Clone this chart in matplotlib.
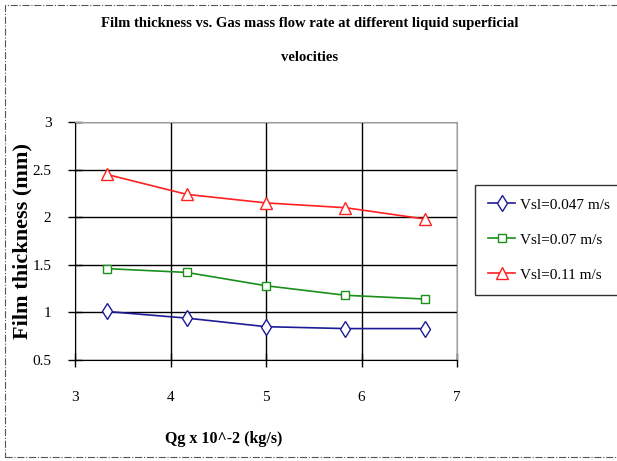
import matplotlib
matplotlib.use("Agg")
import matplotlib.pyplot as plt
from matplotlib.patches import Rectangle

plt.rcParams['font.family'] = ['Liberation Serif', 'DejaVu Serif']

# data
qg = [3.33, 4.17, 5.0, 5.83, 6.67]
vsl_047 = [1.01, 0.94, 0.85, 0.83, 0.83]
vsl_07 = [1.46, 1.42, 1.28, 1.18, 1.14]
vsl_11 = [2.45, 2.24, 2.15, 2.10, 1.98]
labels = ['Vsl=0.047 m/s', 'Vsl=0.07 m/s', 'Vsl=0.11 m/s']
x_ticks = [3, 4, 5, 6, 7]
y_ticks = [0.5, 1, 1.5, 2, 2.5, 3]

fig = plt.figure(figsize=(6.17, 4.61), dpi=100)
ax = fig.add_axes([75/617, 101/461, 382/617, 238/461])

# dash-dot frame around the whole chart
fig.patches.append(Rectangle((5/617, 4/461), 1.0, 452/461, transform=fig.transFigure,
                             fill=False, edgecolor='#555555', linestyle='-.', linewidth=0.8))

ax.plot(qg, vsl_047, color='#1c1c96', lw=1.2, marker='d', ms=8, mfc='white', mec='#1c1c96', label=labels[0])
ax.plot(qg, vsl_07, color='#1a8f1a', lw=1.2, marker='s', ms=6, mfc='white', mec='#1a8f1a', label=labels[1])
ax.plot(qg, vsl_11, color='#ff2020', lw=1.2, marker='^', ms=8, mfc='white', mec='#ff2020', label=labels[2])

ax.set_xlim(3, 7)
ax.set_ylim(0.5, 3)
ax.set_xticks(x_ticks)
ax.set_yticks(y_ticks)
ax.set_yticklabels(['0.5', '1', '1.5', '2', '2.5', '3'])
ax.grid(True, color='black', linewidth=1)
ax.tick_params(direction='inout', length=10, width=1, labelsize=11)
ax.tick_params(axis='x', pad=17)
ax.tick_params(axis='y', pad=12)
for s in ['top', 'right']:
    ax.spines[s].set_color('#a0a0a0')

fig.text(310/617, 1 - 17/461, 'Film thickness vs. Gas mass flow rate at different liquid superficial\nvelocities',
         ha='center', va='top', fontsize=10.5, fontweight='bold', linespacing=3.1)
ax.set_xlabel('Qg x 10^-2 (kg/s)', fontsize=11.5, fontweight='bold')
ax.xaxis.set_label_coords(0.39, -0.30)
ax.set_ylabel('Film thickness (mm)', fontsize=16, fontweight='bold')
ax.yaxis.set_label_coords(-0.11, 0.5)

leg = ax.legend(loc='upper left', bbox_to_anchor=(475/617, 1 - 185/461), bbox_transform=fig.transFigure,
                fontsize=11, frameon=True, fancybox=False, edgecolor='black', handlelength=1.8,
                handletextpad=0.3, borderpad=0.85, labelspacing=1.4, borderaxespad=0)
leg.get_frame().set_linewidth(1)

fig.savefig('out.png', dpi=100)
